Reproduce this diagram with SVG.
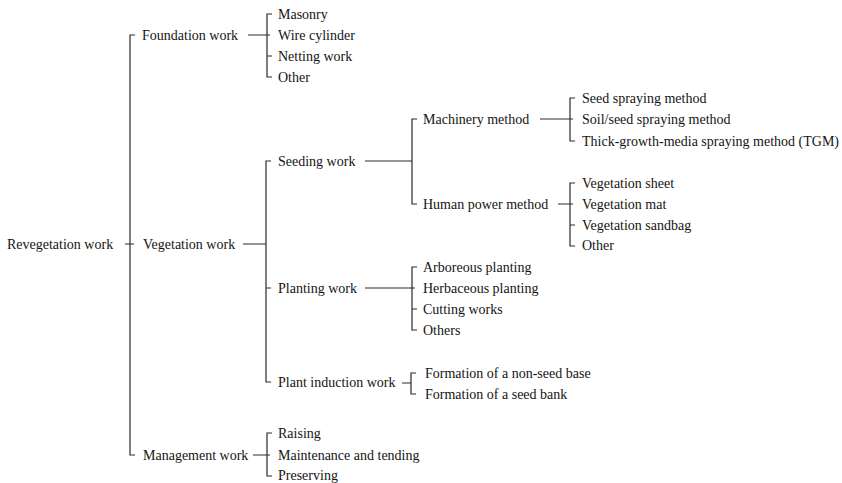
<svg xmlns="http://www.w3.org/2000/svg" width="842" height="483" viewBox="0 0 842 483">
<style>
text{font-family:"Liberation Serif","Times New Roman",serif;font-size:14px;fill:#141414;}
.c path{fill:none;stroke:#2a2a2a;stroke-width:1.2;}
</style>
<rect width="842" height="483" fill="#ffffff"/>
<g class="c" id="connectors">
<path d="M125,244 H134 M135,35 H130 V455 H135"/>
<path d="M248,35 H270 M272,14 H267 V77 H272 M267,56 H272"/>
<path d="M243,244 H266 M271,161 H266 V382 H271 M266,288 H271"/>
<path d="M365,161 H412 M417,119 H412 V204 H417"/>
<path d="M540,119 H573 M575,98 H570 V141 H575"/>
<path d="M558,204 H573 M575,183 H570 V246 H575 M570,225 H575"/>
<path d="M365,288 H415 M417,267 H412 V330 H417 M412,309 H417"/>
<path d="M402,383 H411 M416,373 H411 V394 H416"/>
<path d="M253,455 H270 M272,433 H267 V476 H272"/>
</g>
<g id="revegetation"><text x="7" y="249">Revegetation work</text></g>
<g id="foundation"><text x="142" y="40">Foundation work</text></g>
<g id="masonry"><text x="278" y="19">Masonry</text></g>
<g id="wire"><text x="278" y="40">Wire cylinder</text></g>
<g id="netting"><text x="278" y="61">Netting work</text></g>
<g id="other1"><text x="278" y="82">Other</text></g>
<g id="vegetation"><text x="143" y="249">Vegetation work</text></g>
<g id="seeding"><text x="278" y="166">Seeding work</text></g>
<g id="machinery"><text x="423" y="124">Machinery method</text></g>
<g id="seedspray"><text x="582" y="103">Seed spraying method</text></g>
<g id="soilseed"><text x="582" y="124">Soil/seed spraying method</text></g>
<g id="tgm"><text x="582" y="146">Thick-growth-media spraying method (TGM)</text></g>
<g id="human"><text x="423" y="209">Human power method</text></g>
<g id="vsheet"><text x="582" y="188">Vegetation sheet</text></g>
<g id="vmat"><text x="582" y="209">Vegetation mat</text></g>
<g id="vsandbag"><text x="582" y="230">Vegetation sandbag</text></g>
<g id="other2"><text x="582" y="250">Other</text></g>
<g id="planting"><text x="278" y="293">Planting work</text></g>
<g id="arboreous"><text x="423" y="272">Arboreous planting</text></g>
<g id="herbaceous"><text x="423" y="293">Herbaceous planting</text></g>
<g id="cutting"><text x="423" y="314">Cutting works</text></g>
<g id="others"><text x="423" y="335">Others</text></g>
<g id="induction"><text x="278" y="387">Plant induction work</text></g>
<g id="nonseed"><text x="425" y="378">Formation of a non-seed base</text></g>
<g id="seedbank"><text x="425" y="399">Formation of a seed bank</text></g>
<g id="management"><text x="143" y="460">Management work</text></g>
<g id="raising"><text x="278" y="438">Raising</text></g>
<g id="maintenance"><text x="278" y="460">Maintenance and tending</text></g>
<g id="preserving"><text x="278" y="480">Preserving</text></g>
</svg>
